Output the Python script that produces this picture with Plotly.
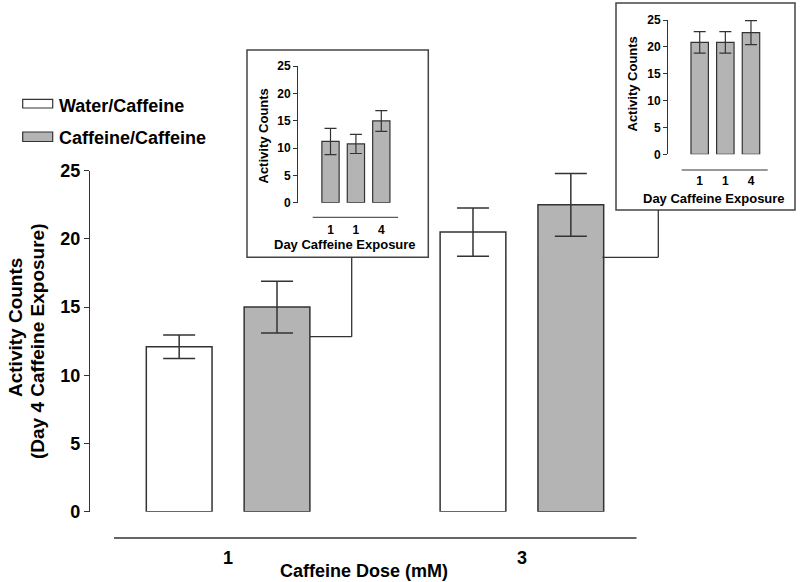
import plotly.graph_objects as go

# ---------------- data ----------------
doses = ["1", "3"]
water_caffeine = [12.1, 20.5]
water_caffeine_err = [0.86, 1.77]
caffeine_caffeine = [15.0, 22.5]
caffeine_caffeine_err = [1.9, 2.3]

inset_ticks = ["1", "1", "4"]
inset1_vals = [11.2, 10.75, 14.95]
inset1_err = [2.4, 1.75, 1.9]
inset2_vals = [20.85, 20.85, 22.65]
inset2_err = [2.0, 2.0, 2.25]

W, H = 800, 582
FONT = "Arial, Liberation Sans, sans-serif"
GRAY = "#b4b4b4"
EDGE = "#333333"


def X(px):
    return px / W


def Y(py):
    return 1 - py / H


fig = go.Figure()

# main bars
bw = 0.2237
fig.add_trace(go.Bar(
    x=doses, y=water_caffeine, width=bw, offset=-0.1665 - bw / 2,
    marker=dict(color="white", line=dict(color=EDGE, width=1.5)),
    error_y=dict(type="data", array=water_caffeine_err, color=EDGE, thickness=1.5, width=16),
    xaxis="x", yaxis="y", showlegend=False, name="Water/Caffeine"))
fig.add_trace(go.Bar(
    x=doses, y=caffeine_caffeine, width=bw, offset=0.1665 - bw / 2,
    marker=dict(color=GRAY, line=dict(color=EDGE, width=1.5)),
    error_y=dict(type="data", array=caffeine_caffeine_err, color=EDGE, thickness=1.5, width=16),
    xaxis="x", yaxis="y", showlegend=False, name="Caffeine/Caffeine"))

# inset bars
idx = list(range(len(inset_ticks)))
fig.add_trace(go.Bar(
    x=idx, y=inset1_vals, width=0.68,
    marker=dict(color=GRAY, line=dict(color=EDGE, width=1.2)),
    error_y=dict(type="data", array=inset1_err, color=EDGE, thickness=1.2, width=6),
    xaxis="x2", yaxis="y2", showlegend=False))
fig.add_trace(go.Bar(
    x=idx, y=inset2_vals, width=0.68,
    marker=dict(color=GRAY, line=dict(color=EDGE, width=1.2)),
    error_y=dict(type="data", array=inset2_err, color=EDGE, thickness=1.2, width=6),
    xaxis="x3", yaxis="y3", showlegend=False))

main_tick_font = dict(family=FONT, size=18, color="black", weight="bold")
in_tick_font = dict(family=FONT, size=12, color="black", weight="bold")

common = dict(showgrid=False, zeroline=False, automargin=False)

layout = dict(
    width=W, height=H, margin=dict(l=0, r=0, t=0, b=0, pad=0, autoexpand=False),
    paper_bgcolor="white", plot_bgcolor="rgba(0,0,0,0)",
    barmode="overlay", showlegend=False,
    font=dict(family=FONT, color="black"),
    xaxis=dict(domain=[X(90), X(660)], range=[-0.47, 1.47], type="category",
               showline=False, ticks="", ticklabelstandoff=33,
               tickfont=main_tick_font, anchor="y", **common),
    yaxis=dict(domain=[Y(511.7), Y(170.7)], range=[0, 25], dtick=5,
               showline=True, linecolor=EDGE, linewidth=1.2, ticks="outside",
               ticklen=5, tickcolor=EDGE, tickfont=main_tick_font, anchor="x", **common),
    xaxis2=dict(domain=[X(298), X(406.7)], range=[-1.28, 3.0],
                tickvals=idx, ticktext=inset_ticks, showline=False, ticks="",
                ticklabelstandoff=18, tickfont=in_tick_font, anchor="y2", **common),
    yaxis2=dict(domain=[Y(202.7), Y(66)], range=[0, 25], dtick=5,
                showline=True, linecolor=EDGE, linewidth=1, ticks="outside",
                ticklen=4, tickcolor=EDGE, tickfont=in_tick_font, anchor="x2", **common),
    xaxis3=dict(domain=[X(668), X(775.6)], range=[-1.236, 2.96],
                tickvals=idx, ticktext=inset_ticks, showline=False, ticks="",
                ticklabelstandoff=18, tickfont=in_tick_font, anchor="y3", **common),
    yaxis3=dict(domain=[Y(154.3), Y(20)], range=[0, 25], dtick=5,
                showline=True, linecolor=EDGE, linewidth=1, ticks="outside",
                ticklen=4, tickcolor=EDGE, tickfont=in_tick_font, anchor="x3", **common),
)
fig.update_layout(**layout)

shapes = []


def line(x0, y0, x1, y1, w=1.3, c=EDGE):
    shapes.append(dict(type="line", xref="paper", yref="paper",
                       x0=X(x0), y0=Y(y0), x1=X(x1), y1=Y(y1),
                       line=dict(color=c, width=w)))


# category axis baselines (offset below plot areas)
line(114, 538, 636.5, 538)
line(312.7, 217.3, 398, 217.3, w=1)
line(681.7, 170, 767.7, 170, w=1)

# inset boxes
for (x0, y0, x1, y1) in [(247, 50, 428.3, 257.3), (616, 3, 795, 210)]:
    shapes.append(dict(type="rect", xref="paper", yref="paper",
                       x0=X(x0), y0=Y(y0), x1=X(x1), y1=Y(y1),
                       line=dict(color="#444444", width=1.5), fillcolor="rgba(0,0,0,0)",
                       layer="below"))

# connectors
line(310, 336.7, 351.7, 336.7)
line(351.7, 336.7, 351.7, 257.3)
line(602.5, 257.3, 658.3, 257.3)
line(658.3, 257.3, 658.3, 210)

# legend swatches
shapes.append(dict(type="rect", xref="paper", yref="paper",
                   x0=X(22.7), y0=Y(99.3), x1=X(52.7), y1=Y(108),
                   line=dict(color=EDGE, width=1.2), fillcolor="white"))
shapes.append(dict(type="rect", xref="paper", yref="paper",
                   x0=X(22.7), y0=Y(132), x1=X(52.7), y1=Y(141.5),
                   line=dict(color=EDGE, width=1.2), fillcolor=GRAY))

annotations = []


def text(t, x, y, size, angle=0, xanchor="center"):
    annotations.append(dict(text="<b>%s</b>" % t, xref="paper", yref="paper",
                            x=X(x), y=Y(y), xanchor=xanchor, yanchor="middle",
                            showarrow=False, textangle=angle,
                            font=dict(family=FONT, size=size, color="black")))


text("Water/Caffeine", 57, 105.5, 18, xanchor="left")
text("Caffeine/Caffeine", 57, 137.5, 18, xanchor="left")
text("Activity Counts", 15, 328, 19, angle=-90)
text("(Day 4 Caffeine Exposure)", 37, 342, 19, angle=-90)
text("Caffeine Dose (mM)", 364, 571, 18)
text("Activity Counts", 263, 136.5, 13, angle=-90)
text("Day Caffeine Exposure", 345, 244.5, 13)
text("Activity Counts", 632, 84.5, 13, angle=-90)
text("Day Caffeine Exposure", 713.5, 198, 13)

fig.update_layout(shapes=shapes, annotations=annotations)

fig.write_html("out.html", config={"displayModeBar": False},
               post_script="document.body.style.margin='0';document.body.style.overflow='hidden';")
